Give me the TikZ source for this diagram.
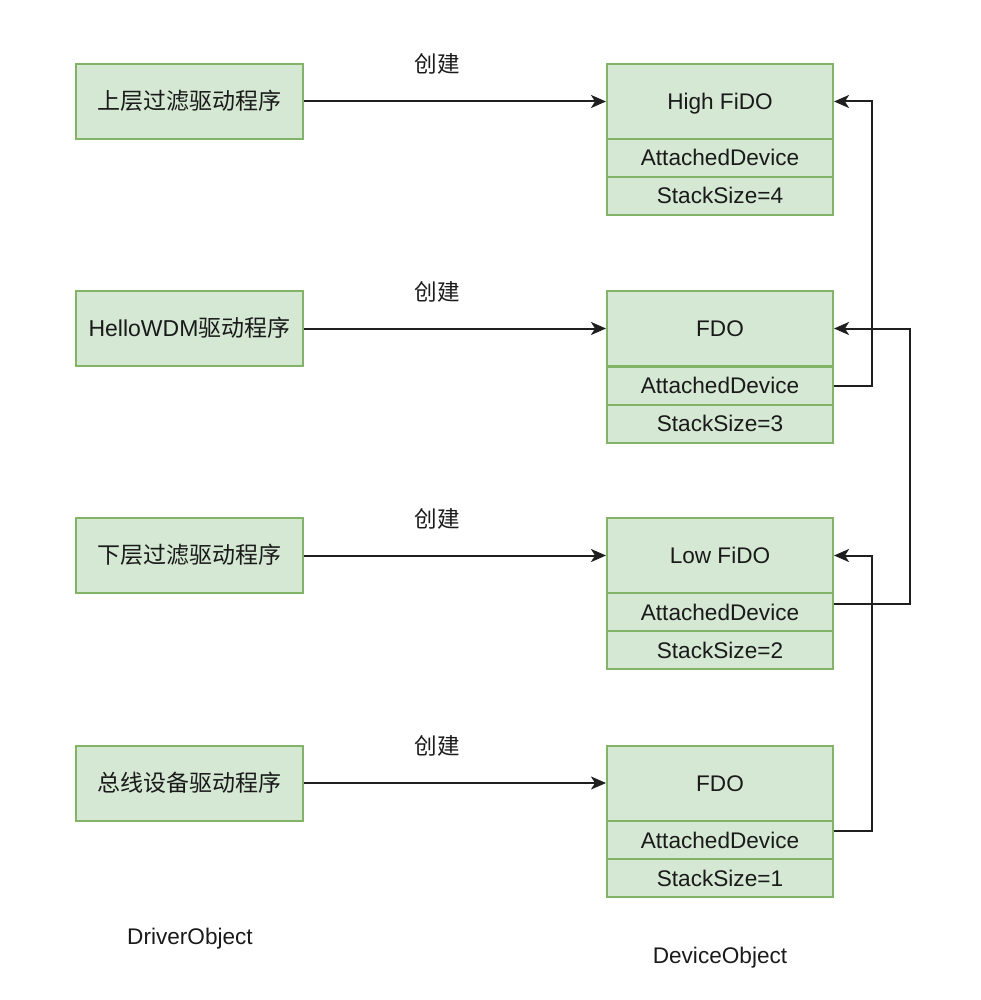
\documentclass[tikz,border=0pt]{standalone}
\usepackage{fontspec}
\setmainfont{Liberation Sans}
\newfontfamily\cjk{Noto Sans CJK SC}
\usetikzlibrary{arrows.meta}
\definecolor{boxfill}{HTML}{D5E8D4}
\definecolor{boxline}{HTML}{82B366}
\definecolor{txt}{HTML}{1A1A1A}
\begin{document}
\begin{tikzpicture}[x=1pt,y=-1pt,
  base/.style={draw=boxline,fill=boxfill,line width=2pt,inner sep=0pt,
    text=txt,font=\fontsize{22.6}{26}\selectfont,text height=16pt,text depth=0pt},
  drv/.style={base,minimum width=227pt,minimum height=75pt,
    font=\fontsize{23}{26}\selectfont},
  head/.style={base,minimum width=226pt,minimum height=75pt},
  field/.style={base,minimum width=226pt,minimum height=38pt},
  conn/.style={line width=2pt,draw=black!88,
    -{Stealth[length=15pt,width=13pt,inset=4pt]}},
  lbl/.style={text=txt,font=\fontsize{22.6}{26}\selectfont,inner sep=0pt,
    text height=16pt,text depth=0pt}]
\useasboundingbox (0,0) rectangle (981,1000);

% driver objects
\node[drv] (d1) at (189.5,101.5) {\cjk 上层过滤驱动程序};
\node[drv] (d2) at (189.5,328.5) {HelloWDM{\cjk 驱动程序}};
\node[drv] (d3) at (189.5,555.5) {\cjk 下层过滤驱动程序};
\node[drv] (d4) at (189.5,783) {\cjk 总线设备驱动程序};

% device objects
\node[head] (h1) at (720,101.5) {High FiDO};
\node[field] (a1) at (720,158) {AttachedDevice};
\node[field] (s1) at (720,196) {StackSize=4};

\node[head] (h2) at (720,328.5) {FDO};
\node[field] (a2) at (720,385.5) {AttachedDevice};
\node[field] (s2) at (720,423.5) {StackSize=3};

\node[head] (h3) at (720,555.5) {Low FiDO};
\node[field] (a3) at (720,612) {AttachedDevice};
\node[field] (s3) at (720,650) {StackSize=2};

\node[head] (h4) at (720,783) {FDO};
\node[field] (a4) at (720,840) {AttachedDevice};
\node[field] (s4) at (720,878) {StackSize=1};

% create arrows
\draw[conn] (d1.east) -- (h1.west);
\draw[conn] (d2.east) -- (h2.west);
\draw[conn] (d3.east) -- (h3.west);
\draw[conn] (d4.east) -- (h4.west);

\node[lbl] (c1) at (437,65) {\cjk 创建};
\node[lbl] (c2) at (437,292) {\cjk 创建};
\node[lbl] (c3) at (437,519) {\cjk 创建};
\node[lbl] (c4) at (437,746) {\cjk 创建};

% attached device links
\draw[conn] (a2.east) -- ++(38,0) |- (h1.east);
\draw[conn] ([yshift=8pt]a3.east) -- ++(76,0) |- (h2.east);
\draw[conn] ([yshift=9pt]a4.east) -- ++(38,0) |- (h3.east);

% captions
\node[lbl] (t1) at (190,936) {DriverObject};
\node[lbl] (t2) at (720,955) {DeviceObject};
\end{tikzpicture}
\end{document}
